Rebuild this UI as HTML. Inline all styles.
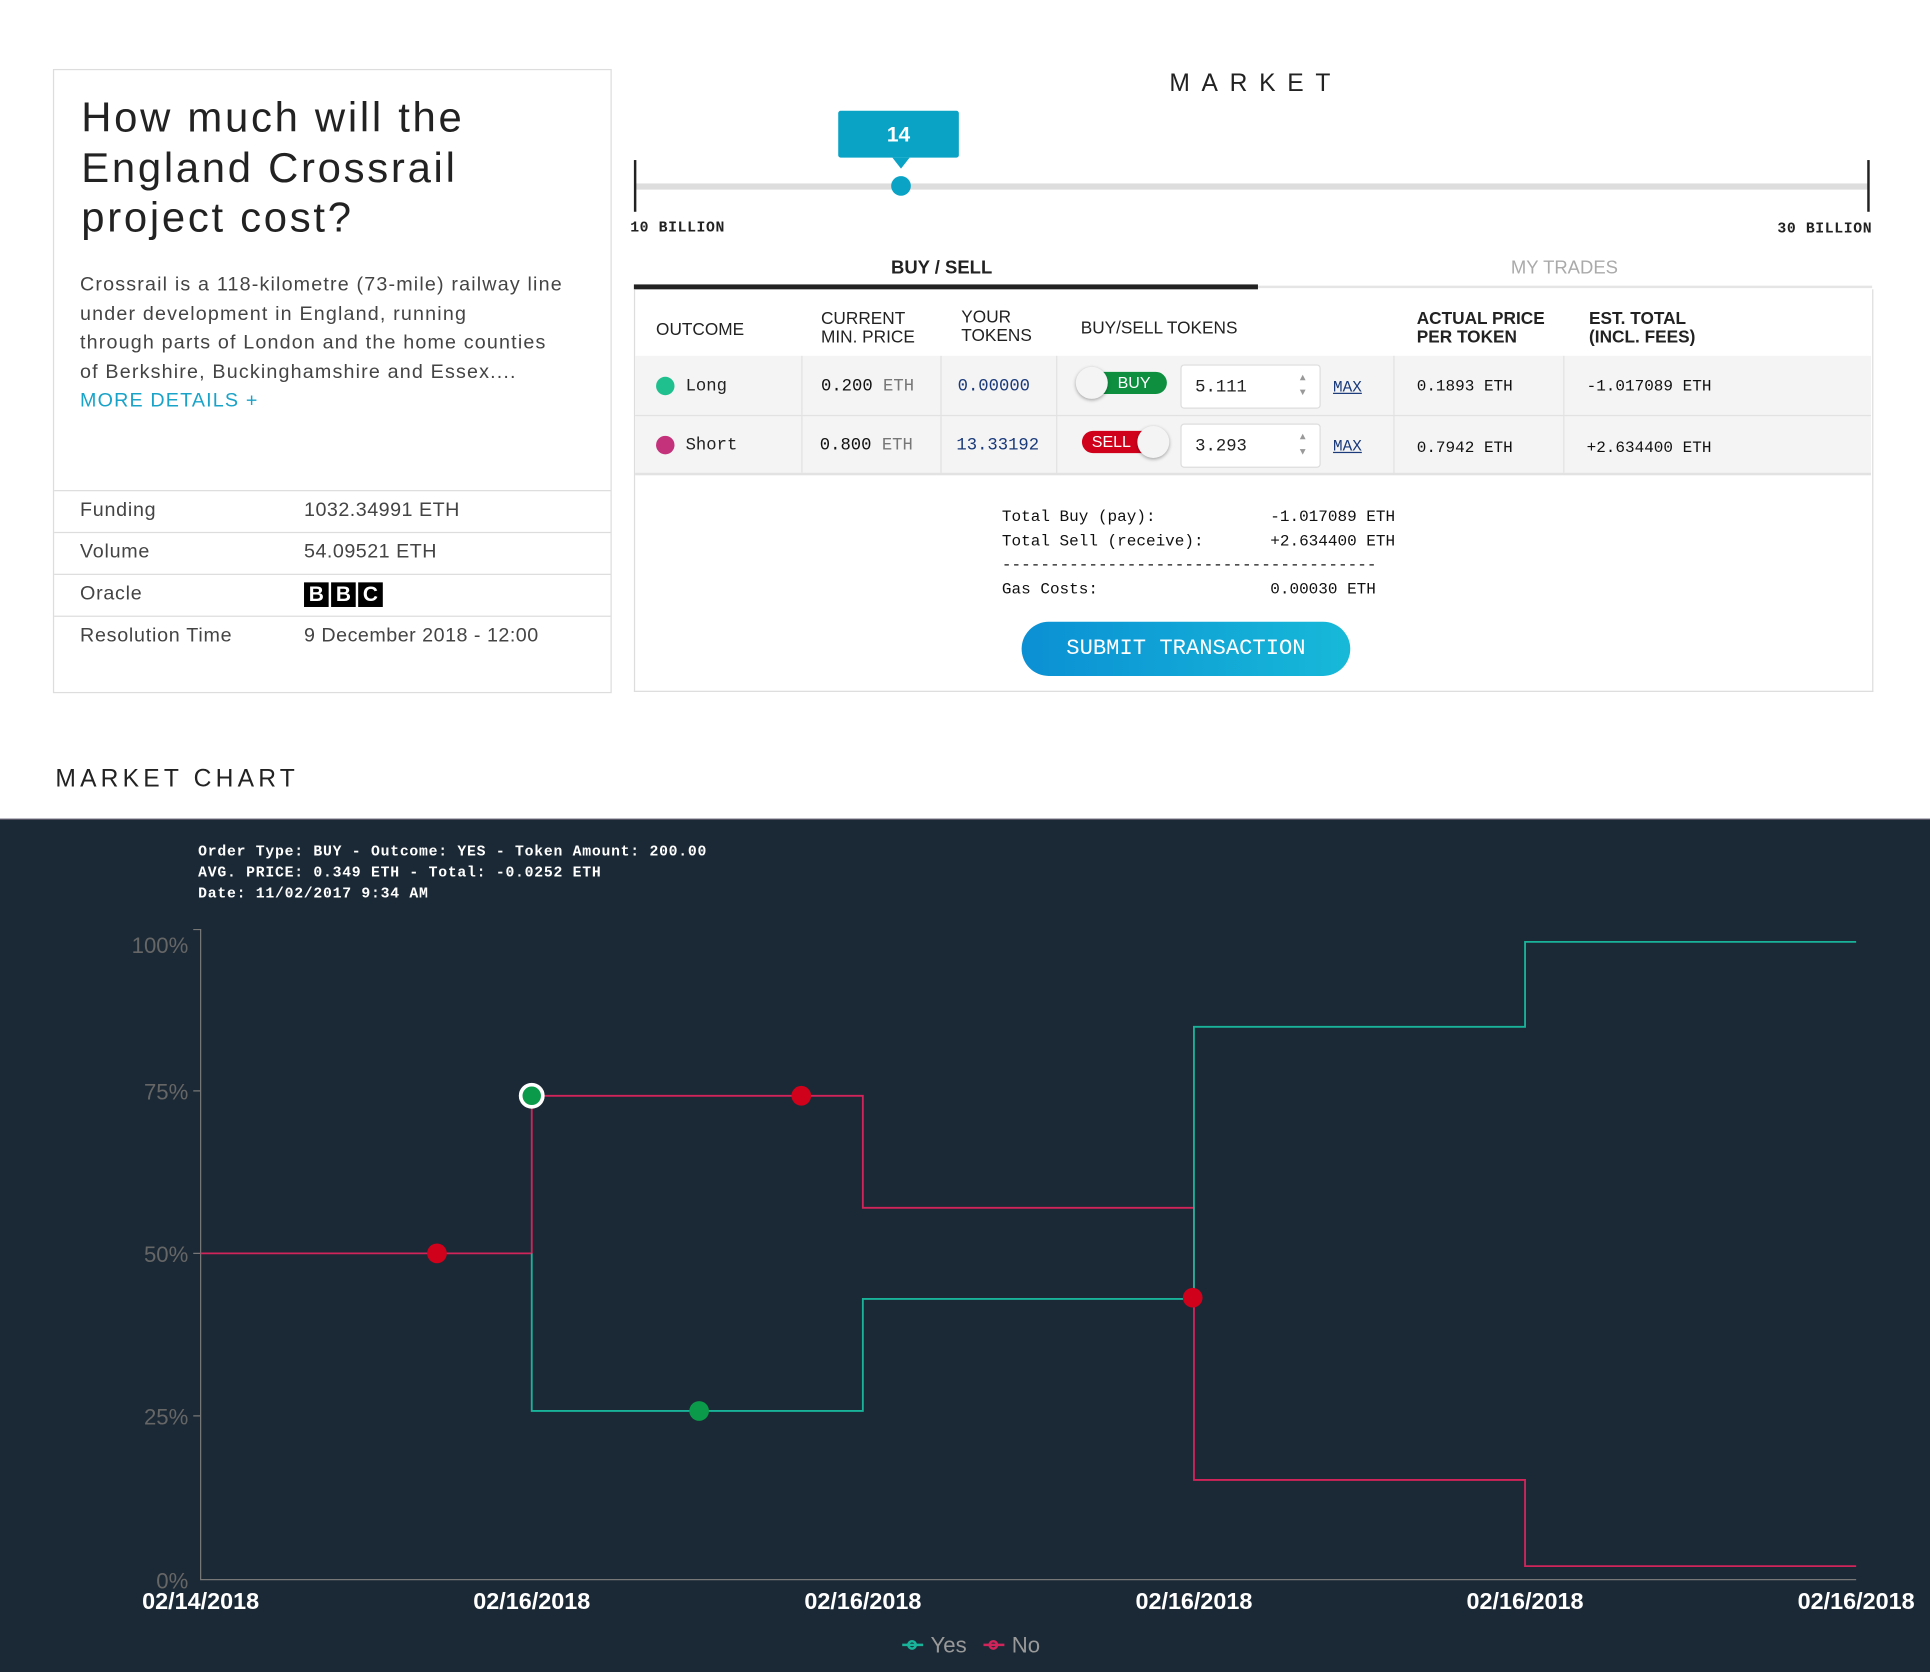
<!DOCTYPE html>
<html><head><meta charset="utf-8"><style>
html,body{margin:0;padding:0;background:#fff;overflow:hidden}
#wrap{width:1930px;height:1672px;overflow:hidden;position:relative}
#s{position:absolute;left:0;top:0;width:1568px;height:1358px;transform:scale(1.23087,1.23122);transform-origin:0 0;font-family:"Liberation Sans",sans-serif}
.a{position:absolute;white-space:nowrap}
.m{font-family:"Liberation Mono",monospace}
.b{font-weight:bold}
.sp{position:absolute;left:96px;top:5px;font-size:8px;color:#999;line-height:12px;text-indent:0}
</style></head><body><div id="wrap"><div id="s">
<!-- left card -->
<div class="a" style="left:43px;top:56px;width:452px;height:505px;border:1px solid #ddd"></div>
<div class="a" style="left:66px;top:76px;font-size:34px;line-height:40.5px;color:#222;letter-spacing:2.2px">How much will the<br>England Crossrail<br>project cost?</div>
<div class="a" style="left:65px;top:220px;font-size:16px;line-height:23.5px;color:#444;letter-spacing:0.95px">Crossrail is a 118-kilometre (73-mile) railway line<br>under development in England, running<br>through parts of London and the home counties<br>of Berkshire, Buckinghamshire and Essex....<br><span style="color:#1aa3c8">MORE DETAILS +</span></div>
<div class="a" style="left:44px;top:398px;width:452px;height:1px;background:#ddd"></div>
<div class="a" style="left:44px;top:432px;width:452px;height:1px;background:#ddd"></div>
<div class="a" style="left:44px;top:466px;width:452px;height:1px;background:#ddd"></div>
<div class="a" style="left:44px;top:500px;width:452px;height:1px;background:#ddd"></div>
<div class="a" style="left:65px;top:406px;font-size:16px;color:#444;letter-spacing:0.6px">Funding</div>
<div class="a" style="left:247px;top:406px;font-size:16px;color:#444;letter-spacing:0.4px">1032.34991 ETH</div>
<div class="a" style="left:65px;top:440px;font-size:16px;color:#444;letter-spacing:0.6px">Volume</div>
<div class="a" style="left:247px;top:440px;font-size:16px;color:#444;letter-spacing:0.4px">54.09521 ETH</div>
<div class="a" style="left:65px;top:474px;font-size:16px;color:#444;letter-spacing:0.6px">Oracle</div>
<div class="a" style="left:247px;top:473px;display:flex;gap:2px"><span style="background:#000;color:#fff;font-weight:bold;width:20px;height:20px;text-align:center;font-size:17px;line-height:20px">B</span><span style="background:#000;color:#fff;font-weight:bold;width:20px;height:20px;text-align:center;font-size:17px;line-height:20px">B</span><span style="background:#000;color:#fff;font-weight:bold;width:20px;height:20px;text-align:center;font-size:17px;line-height:20px">C</span></div>
<div class="a" style="left:65px;top:508px;font-size:16px;color:#444;letter-spacing:0.6px">Resolution Time</div>
<div class="a" style="left:247px;top:508px;font-size:16px;color:#444;letter-spacing:0.4px">9 December 2018 - 12:00</div>
<!-- market -->
<div class="a" style="left:950px;top:57px;font-size:20px;letter-spacing:9.5px;color:#222">MARKET</div>
<div class="a" style="left:516px;top:149px;width:1002px;height:5px;background:#ddd"></div>
<div class="a" style="left:515px;top:130px;width:2px;height:42px;background:#222"></div>
<div class="a" style="left:1517px;top:130px;width:2px;height:42px;background:#222"></div>
<div class="a" style="left:681px;top:90px;width:98px;height:38px;background:#0aa3c6;border-radius:2px;color:#fff;font-size:17px;font-weight:bold;text-align:center;line-height:40px">14</div>
<div class="a" style="left:725px;top:128px;width:0;height:0;border-left:7px solid transparent;border-right:7px solid transparent;border-top:9px solid #0aa3c6"></div>
<div class="a" style="left:724px;top:143px;width:16px;height:16px;border-radius:50%;background:#0aa3c6"></div>
<div class="a m b" style="left:512px;top:178px;font-size:12px;color:#222;letter-spacing:0.5px">10 BILLION</div>
<div class="a m b" style="left:1444px;top:179px;font-size:12px;color:#222;letter-spacing:0.5px">30 BILLION</div>
<div class="a b" style="left:700px;top:209px;width:130px;text-align:center;font-size:15px;color:#222">BUY / SELL</div>
<div class="a" style="left:1206px;top:209px;width:130px;text-align:center;font-size:15px;color:#aaa">MY TRADES</div>
<div class="a" style="left:515px;top:232px;width:1006px;height:2px;background:#e5e5e5"></div>
<div class="a" style="left:515px;top:231px;width:507px;height:4px;background:#222"></div>
<div class="a" style="left:515px;top:235px;width:1005px;height:326px;border:1px solid #ddd;border-top:none"></div>
<div class="a" style="left:533px;top:259px;font-size:14px;color:#222">OUTCOME</div>
<div class="a" style="left:667px;top:251px;font-size:14px;line-height:15px;color:#222">CURRENT<br>MIN. PRICE</div>
<div class="a" style="left:781px;top:250px;font-size:14px;line-height:15px;color:#222">YOUR<br>TOKENS</div>
<div class="a" style="left:878px;top:258px;font-size:14px;color:#222">BUY/SELL TOKENS</div>
<div class="a b" style="left:1151px;top:251px;font-size:14px;line-height:15px;color:#222">ACTUAL PRICE<br>PER TOKEN</div>
<div class="a b" style="left:1291px;top:251px;font-size:14px;line-height:15px;color:#222">EST. TOTAL<br>(INCL. FEES)</div>
<div class="a" style="left:516px;top:289px;width:1004px;height:95px;background:#f4f4f4;border-bottom:2px solid #e2e2e2"></div>
<div class="a" style="left:516px;top:337px;width:1004px;height:1px;background:#e2e2e2"></div>
<div class="a" style="left:651px;top:289px;width:1px;height:95px;background:#e2e2e2"></div>
<div class="a" style="left:764px;top:289px;width:1px;height:95px;background:#e2e2e2"></div>
<div class="a" style="left:858px;top:289px;width:1px;height:95px;background:#e2e2e2"></div>
<div class="a" style="left:1132px;top:289px;width:1px;height:95px;background:#e2e2e2"></div>
<div class="a" style="left:1270px;top:289px;width:1px;height:95px;background:#e2e2e2"></div>
<div class="a" style="left:533px;top:306px;width:15px;height:15px;border-radius:50%;background:#20c08e"></div>
<div class="a" style="left:533px;top:354px;width:15px;height:15px;border-radius:50%;background:#c4327c"></div>
<div class="a m" style="left:557px;top:306px;font-size:14px;color:#222">Long</div>
<div class="a m" style="left:557px;top:354px;font-size:14px;color:#222">Short</div>
<div class="a m" style="left:667px;top:306px;font-size:14px;color:#111">0.200 <span style="color:#777">ETH</span></div>
<div class="a m" style="left:666px;top:354px;font-size:14px;color:#111">0.800 <span style="color:#777">ETH</span></div>
<div class="a m" style="left:778px;top:306px;font-size:14px;color:#1a3a7a">0.00000</div>
<div class="a m" style="left:777px;top:354px;font-size:14px;color:#1a3a7a">13.33192</div>
<div class="a" style="left:880px;top:302px;width:68px;height:18px;border-radius:9px;background:#0d8f3f;color:#fff;font-size:13px;line-height:18px;text-indent:28px">BUY</div>
<div class="a" style="left:874px;top:298px;width:26px;height:26px;border-radius:50%;background:#f4f4f4;box-shadow:0 1px 3px rgba(0,0,0,.35)"></div>
<div class="a" style="left:879px;top:350px;width:68px;height:18px;border-radius:9px;background:#d0021b;color:#fff;font-size:13px;line-height:18px;text-indent:8px">SELL</div>
<div class="a" style="left:924px;top:346px;width:26px;height:26px;border-radius:50%;background:#f4f4f4;box-shadow:0 1px 3px rgba(0,0,0,.35)"></div>
<div class="a m" style="left:959px;top:296px;width:112px;height:34px;background:#fff;border:1px solid #ddd;border-radius:3px;font-size:14px;line-height:36px;text-indent:11px;color:#222">5.111<span class="sp">▲<br>▼</span></div>
<div class="a m" style="left:959px;top:344px;width:112px;height:34px;background:#fff;border:1px solid #ddd;border-radius:3px;font-size:14px;line-height:36px;text-indent:11px;color:#222">3.293<span class="sp">▲<br>▼</span></div>
<div class="a m" style="left:1083px;top:307px;font-size:13px;color:#1a3a7a;text-decoration:underline">MAX</div>
<div class="a m" style="left:1083px;top:355px;font-size:13px;color:#1a3a7a;text-decoration:underline">MAX</div>
<div class="a m" style="left:1151px;top:306px;font-size:13px;color:#111">0.1893 ETH</div>
<div class="a m" style="left:1151px;top:356px;font-size:13px;color:#111">0.7942 ETH</div>
<div class="a m" style="left:1289px;top:306px;font-size:13px;color:#111">-1.017089 ETH</div>
<div class="a m" style="left:1289px;top:356px;font-size:13px;color:#111">+2.634400 ETH</div>
<div class="a m" style="left:814px;top:410px;font-size:13px;line-height:19.5px;color:#111">Total Buy (pay):<br>Total Sell (receive):<br>---------------------------------------<br>Gas Costs:</div>
<div class="a m" style="left:1032px;top:410px;font-size:13px;line-height:19.5px;color:#111">-1.017089 ETH<br>+2.634400 ETH<br><br>0.00030 ETH</div>
<div class="a m" style="left:830px;top:505px;width:267px;height:44px;border-radius:22px;background:linear-gradient(90deg,#0b90d4,#17b9d8);color:#fff;font-size:18px;text-align:center;line-height:44px">SUBMIT TRANSACTION</div>
<div class="a" style="left:45px;top:622px;font-size:20px;letter-spacing:3.4px;color:#222">MARKET CHART</div>
<!-- chart -->
<div class="a" style="left:0;top:665px;width:1568px;height:693px;background:#1b2936;border-top:1px solid #556"></div>
<div class="a m b" style="left:161px;top:684px;font-size:12px;line-height:17px;color:#fff;letter-spacing:0.6px">Order Type: BUY - Outcome: YES - Token Amount: 200.00<br>AVG. PRICE: 0.349 ETH - Total: -0.0252 ETH<br>Date: 11/02/2017 9:34 AM</div>
<svg class="a" style="left:0;top:0" width="1568" height="1358">
<g stroke="#777" stroke-width="1" fill="none"><path d="M157 755H163V1283H1508"/><path d="M157 886H163M157 1018H163M157 1150H163"/></g>
<g font-family="Liberation Sans" font-size="18" fill="#666" text-anchor="end">
<text x="153" y="774">100%</text><text x="153" y="893">75%</text><text x="153" y="1025">50%</text><text x="153" y="1157">25%</text><text x="153" y="1290">0%</text></g>
<g font-family="Liberation Sans" font-size="19" font-weight="bold" fill="#fff" text-anchor="middle">
<text x="163" y="1307">02/14/2018</text><text x="432" y="1307">02/16/2018</text><text x="701" y="1307">02/16/2018</text><text x="970" y="1307">02/16/2018</text><text x="1239" y="1307">02/16/2018</text><text x="1508" y="1307">02/16/2018</text></g>
<path d="M163 1018H432V890H701V981H970V1202H1239V1272H1508" stroke="#d0245a" stroke-width="1.5" fill="none"/>
<path d="M432 1018V1146H701V1055H970V834H1239V765H1508" stroke="#19b39a" stroke-width="1.5" fill="none"/>
<g fill="#d0021b"><circle cx="355" cy="1018" r="8"/><circle cx="651" cy="890" r="8"/><circle cx="969" cy="1054" r="8"/></g>
<circle cx="568" cy="1146" r="8" fill="#0a9a4a"/>
<circle cx="432" cy="890" r="9" fill="#0a9a4a" stroke="#fff" stroke-width="3"/>
<g stroke-width="2" fill="none"><path d="M733 1336H750" stroke="#19b39a"/><circle cx="741" cy="1336" r="3" stroke="#19b39a"/><path d="M799 1336H816" stroke="#d0245a"/><circle cx="807" cy="1336" r="3" stroke="#d0245a"/></g>
<g font-family="Liberation Sans" font-size="18" fill="#999"><text x="756" y="1342">Yes</text><text x="822" y="1342">No</text></g>
</svg>
</div></div></body></html>
